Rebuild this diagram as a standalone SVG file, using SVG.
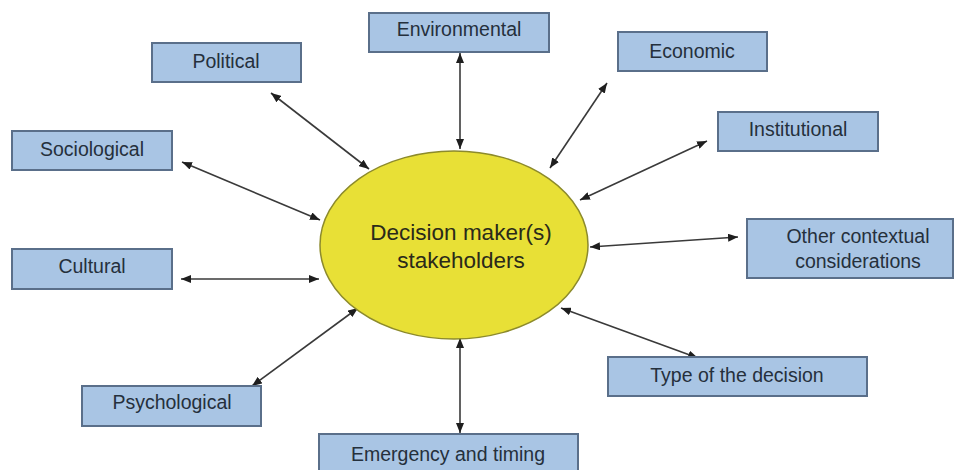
<svg xmlns="http://www.w3.org/2000/svg" width="956" height="470" viewBox="0 0 956 470">
<defs>
<marker id="ah" viewBox="0 0 10 8" refX="10" refY="4" markerWidth="10" markerHeight="8" markerUnits="userSpaceOnUse" orient="auto-start-reverse">
<path d="M0,0 L10,4 L0,8 Z" fill="#1e1e1e"/>
</marker>
</defs>
<style>
.box{fill:#a9c5e4;stroke:#5a6f8a;stroke-width:2}
.lbl{font-family:"Liberation Sans",Arial,sans-serif;font-size:19.5px;fill:#25303c;text-anchor:middle}
.conn line{stroke:#3a3a3a;stroke-width:1.6;marker-start:url(#ah);marker-end:url(#ah)}
.core{fill:#e8e036;stroke:#8c8a2c;stroke-width:1.5}
.ctext{font-family:"Liberation Sans",Arial,sans-serif;font-size:22.5px;fill:#2a2a1a;text-anchor:middle}
</style>
<rect width="956" height="470" fill="#ffffff"/>
<g id="connectors" class="conn">
<line x1="460" y1="53" x2="460" y2="149"/>
<line x1="271" y1="93" x2="369" y2="169"/>
<line x1="182" y1="162" x2="320" y2="220"/>
<line x1="181" y1="279" x2="319" y2="279"/>
<line x1="252" y1="386" x2="358" y2="308"/>
<line x1="460" y1="338" x2="460" y2="433"/>
<line x1="561" y1="308" x2="698" y2="358"/>
<line x1="590" y1="247" x2="738" y2="237"/>
<line x1="580" y1="200" x2="707" y2="141"/>
<line x1="550" y1="168" x2="607" y2="83"/>
</g>
<g id="center">
<ellipse class="core" cx="454" cy="245" rx="134" ry="94"/>
<text class="ctext" x="461" y="240">Decision maker(s)</text>
<text class="ctext" x="461" y="268">stakeholders</text>
</g>
<g id="environmental">
<rect class="box" x="369" y="13" width="180" height="39"/>
<text class="lbl" x="459" y="36">Environmental</text>
</g>
<g id="political">
<rect class="box" x="152" y="43" width="149" height="39"/>
<text class="lbl" x="226" y="68">Political</text>
</g>
<g id="sociological">
<rect class="box" x="12" y="131" width="160" height="39"/>
<text class="lbl" x="92" y="156">Sociological</text>
</g>
<g id="cultural">
<rect class="box" x="12" y="249" width="160" height="40"/>
<text class="lbl" x="92" y="273">Cultural</text>
</g>
<g id="psychological">
<rect class="box" x="82" y="386" width="179" height="40"/>
<text class="lbl" x="172" y="409">Psychological</text>
</g>
<g id="emergency">
<rect class="box" x="319" y="434" width="259" height="44"/>
<text class="lbl" x="448" y="461">Emergency and timing</text>
</g>
<g id="type">
<rect class="box" x="608" y="357" width="259" height="39"/>
<text class="lbl" x="737" y="382">Type of the decision</text>
</g>
<g id="other">
<rect class="box" x="747" y="219" width="206" height="59"/>
<text class="lbl" x="858" y="243">Other contextual</text>
<text class="lbl" x="858" y="268">considerations</text>
</g>
<g id="institutional">
<rect class="box" x="718" y="112" width="160" height="39"/>
<text class="lbl" x="798" y="136">Institutional</text>
</g>
<g id="economic">
<rect class="box" x="618" y="32" width="149" height="39"/>
<text class="lbl" x="692" y="58">Economic</text>
</g>
</svg>
